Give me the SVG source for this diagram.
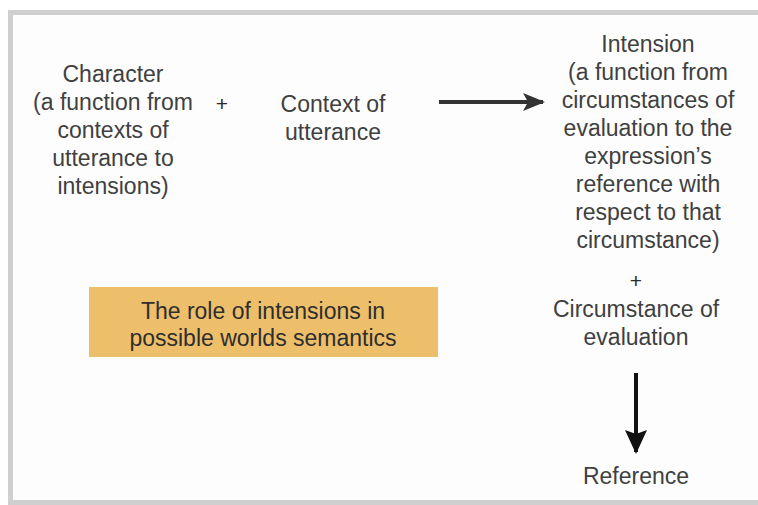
<svg xmlns="http://www.w3.org/2000/svg" width="758" height="505" viewBox="0 0 758 505">
  <style>
    .t { font-family: "Liberation Sans", Arial, sans-serif; font-size: 23px; fill: #404040; text-anchor: middle; }
    .dark { fill: #2e2e2e; }
    .plus { font-size: 21px; fill: #2a2a2a; }
    .conn { stroke: #333; stroke-width: 4; fill: none; }
    .conn2 { stroke: #111; stroke-width: 4; fill: none; }
  </style>
  <defs>
    <marker id="headR" markerUnits="userSpaceOnUse" markerWidth="22" markerHeight="18" refX="20" refY="9" orient="auto">
      <path d="M0,0 L22,9 L0,18 L5,9 Z" fill="#333"/>
    </marker>
    <marker id="headD" markerUnits="userSpaceOnUse" markerWidth="24" markerHeight="22" refX="22" refY="11" orient="auto">
      <path d="M0,0 L24,11 L0,22 L4,11 Z" fill="#111"/>
    </marker>
  </defs>

  <rect x="0" y="0" width="758" height="505" fill="#ffffff"/>
  <!-- outer frame, open to the right edge -->
  <rect x="10.5" y="12.5" width="770" height="490" fill="#fdfdfd" stroke="#cfcfcf" stroke-width="5"/>

  <g id="character">
    <text class="t" x="113" y="82">Character</text>
    <text class="t" x="113" y="110">(a function from</text>
    <text class="t" x="113" y="138">contexts of</text>
    <text class="t" x="113" y="166">utterance to</text>
    <text class="t" x="113" y="194">intensions)</text>
  </g>

  <g id="plus1">
    <text class="t plus" x="222" y="111">+</text>
  </g>

  <g id="context">
    <text class="t" x="333" y="112">Context of</text>
    <text class="t" x="333" y="140">utterance</text>
  </g>

  <g id="intension">
    <text class="t" x="648" y="52">Intension</text>
    <text class="t" x="648" y="80">(a function from</text>
    <text class="t" x="648" y="108">circumstances of</text>
    <text class="t" x="648" y="136">evaluation to the</text>
    <text class="t" x="648" y="164">expression’s</text>
    <text class="t" x="648" y="192">reference with</text>
    <text class="t" x="648" y="220">respect to that</text>
    <text class="t" x="648" y="248">circumstance)</text>
  </g>

  <g id="plus2">
    <text class="t plus" x="636" y="288">+</text>
  </g>

  <g id="circumstance">
    <text class="t" x="636" y="317">Circumstance of</text>
    <text class="t" x="636" y="345">evaluation</text>
  </g>

  <g id="reference">
    <text class="t" x="636" y="484">Reference</text>
  </g>

  <g id="caption">
    <rect x="89" y="287" width="349" height="70" fill="#eebf6b"/>
    <text class="t dark" x="263" y="319">The role of intensions in</text>
    <text class="t dark" x="263" y="346">possible worlds semantics</text>
  </g>

  <g id="connectors">
    <line class="conn" x1="439" y1="102" x2="543" y2="102" marker-end="url(#headR)"/>
    <line class="conn2" x1="636" y1="373" x2="636" y2="452" marker-end="url(#headD)"/>
  </g>
</svg>
